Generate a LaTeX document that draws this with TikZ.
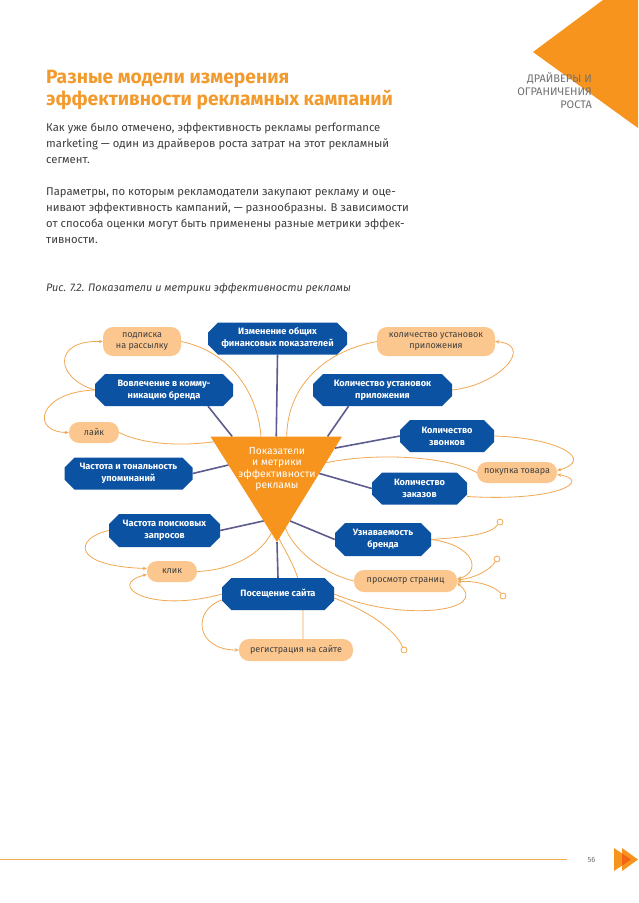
\documentclass[tikz,border=0pt]{standalone}
\usepackage{fontspec}
\setmainfont{Fira Sans}
\usetikzlibrary{positioning,calc,shapes.misc,arrows.meta,backgrounds}
\definecolor{mainOrange}{RGB}{247,148,30}
\definecolor{deepOrange}{RGB}{240,100,20}
\definecolor{titleOrange}{RGB}{243,154,45}
\definecolor{boxBlue}{RGB}{11,82,162}
\definecolor{paleOrange}{RGB}{252,199,143}
\definecolor{lineOrange}{RGB}{241,168,82}
\definecolor{linkBlue}{RGB}{92,92,142}
\definecolor{bodyGray}{RGB}{62,62,62}
\definecolor{headGray}{RGB}{112,112,112}
\tikzstyle{page} = [x = 1pt, y = -1pt]
\tikzstyle{metricBox} = [chamfered rectangle, chamfered rectangle xsep=5pt, chamfered rectangle ysep=5pt, fill=boxBlue, text=white, inner sep=0pt, align=center, font=\fontsize{9.2}{12}\selectfont\bfseries]
\tikzstyle{actionBox} = [rectangle, rounded corners=10pt, fill=paleOrange, text=bodyGray, inner sep=0pt, align=center, font=\fontsize{9}{10.5}\selectfont]
\tikzstyle{endCircle} = [circle, draw=lineOrange, fill=white, line width=.8pt, minimum size=6pt, inner sep=0pt]
\tikzstyle{metricLink} = [draw=linkBlue, line width=1.6pt]
\tikzstyle{actionLink} = [draw=lineOrange, line width=.8pt]
\tikzstyle{actionArrow} = [actionLink, -{Stealth[length=4pt, width=3.5pt]}]
\tikzstyle{triText} = [text=white, align=center, inner sep=0pt, font=\fontsize{10.3}{11.3}\selectfont]
\tikzstyle{bodyText} = [anchor=north west, align=left, inner sep=0pt, text=bodyGray, font=\fontsize{11.3}{16}\selectfont]
\newcommand{\openEnd}[2]{\node [endCircle] (#1) at (#2) {};}
\newcommand{\triPoint}[3]{($(#1)!#3!(#2)$)}

\begin{document}
\begin{tikzpicture}[page]
  \useasboundingbox (0,0) rectangle (638,903);

  % page header
  \fill [mainOrange] (533,52) -- (603,0) -- (638,0) -- (638,128) -- cycle;
  \node [anchor=north east, align=right, inner sep=0pt, text=headGray, font=\fontsize{11}{12.7}\selectfont] (chapter) at (592,73) {ДРАЙВЕРЫ И\\ОГРАНИЧЕНИЯ\\РОСТА};
  \node [anchor=north west, align=left, inner sep=0pt, text=titleOrange, font=\fontsize{19.2}{22}\selectfont\bfseries] (title) at (46,70) {Разные модели измерения\\эффективности рекламных кампаний};
  \node [bodyText] (para) at (46,123) {Как уже было отмечено, эффективность рекламы performance\\marketing~--- один из драйверов роста затрат на этот рекламный\\сегмент.\\[16pt]Параметры, по которым рекламодатели закупают рекламу и оце-\\нивают эффективность кампаний, --- разнообразны. В зависимости\\от способа оценки могут быть применены разные метрики эффек-\\тивности.};
  \node [bodyText, font=\fontsize{10.9}{16}\selectfont\itshape] (caption) at (46,283) {Рис. 7.2. Показатели и метрики эффективности рекламы};

  % centre triangle
  \coordinate (triLeft) at (210.5,436.5);
  \coordinate (triRight) at (342,436.5);
  \coordinate (triApex) at (277,542);
  \fill [mainOrange] (triLeft) -- (triRight) -- (triApex) -- cycle;
  \node [triText] (triLabel) at (277,469) {Показатели\\и метрики\\эффективности\\рекламы};

  % metrics
  \node [metricBox, minimum width=139pt, minimum height=32pt] (finance) at (277.5,338.5) {Изменение общих\\финансовых показателей};
  \node [metricBox, minimum width=138pt, minimum height=32pt] (engage) at (164,390) {Вовлечение в комму-\\никацию бренда};
  \node [metricBox, minimum width=139pt, minimum height=32pt] (installs) at (382.5,390) {Количество установок\\приложения};
  \node [metricBox, minimum width=94pt, minimum height=32pt] (calls) at (447,436) {Количество\\звонков};
  \node [metricBox, minimum width=128pt, minimum height=32pt] (mentions) at (128.5,473.5) {Частота и тональность\\упоминаний};
  \node [metricBox, minimum width=95pt, minimum height=32pt] (orders) at (419.5,488.5) {Количество\\заказов};
  \node [metricBox, minimum width=111pt, minimum height=33pt] (search) at (164.5,530.5) {Частота поисковых\\запросов};
  \node [metricBox, minimum width=96pt, minimum height=33pt] (brand) at (383,539.5) {Узнаваемость\\бренда};
  \node [metricBox, minimum width=112pt, minimum height=32pt] (visit) at (278,594) {Посещение сайта};

  % actions
  \node [actionBox, minimum width=78pt, minimum height=29pt] (subscribe) at (142,341.5) {подписка\\на рассылку};
  \node [actionBox, minimum width=118pt, minimum height=29pt] (appCount) at (436,341.5) {количество установок\\приложения};
  \node [actionBox, minimum width=50pt, minimum height=21pt] (like) at (94,432.5) {лайк};
  \node [actionBox, minimum width=80pt, minimum height=21pt] (purchase) at (517,472.5) {покупка товара};
  \node [actionBox, minimum width=50pt, minimum height=21pt] (click) at (172,571.5) {клик};
  \node [actionBox, minimum width=103pt, minimum height=22pt] (pageView) at (405.5,581) {просмотр страниц};
  \node [actionBox, minimum width=114pt, minimum height=22pt] (signup) at (296,650) {регистрация на сайте};
  \openEnd{endA}{500,522}
  \openEnd{endB}{497,559}
  \openEnd{endC}{503,596}
  \openEnd{endD}{404,650}

  \begin{scope}[on background layer]
    \fill [white] (0,0) rectangle (638,903);
    % metric links
    \draw [metricLink] (finance.south) -- \triPoint{triLeft}{triRight}{.5};
    \draw [metricLink] ($(engage.south)+(44,0)$) -- \triPoint{triLeft}{triRight}{.165};
    \draw [metricLink] ($(installs.south)+(-34,0)$) -- \triPoint{triLeft}{triRight}{.89};
    \draw [metricLink] (calls.west) -- \triPoint{triRight}{triApex}{.11};
    \draw [metricLink] (mentions.east) -- \triPoint{triLeft}{triApex}{.27};
    \draw [metricLink] (orders.west) -- \triPoint{triRight}{triApex}{.35};
    \draw [metricLink] (search.east) -- \triPoint{triLeft}{triApex}{.8};
    \draw [metricLink] (brand.west) -- \triPoint{triRight}{triApex}{.8};
    \draw [metricLink] (visit.north) -- (triApex);
    % action links
    \draw [actionLink] (subscribe.east) .. controls (232,352) and (258,395) .. \triPoint{triLeft}{triRight}{.384};
    \draw [actionLink] (appCount.west) .. controls (320,352) and (287,390) .. \triPoint{triLeft}{triRight}{.58};
    \draw [actionLink] (like.east) .. controls (140,443) and (175,447) .. \triPoint{triLeft}{triApex}{.05};
    \draw [actionLink] (purchase.west) .. controls (445,455) and (370,453) .. \triPoint{triRight}{triApex}{.25};
    \draw [actionLink] (click.east) .. controls (235,570) and (262,552) .. \triPoint{triLeft}{triApex}{.915};
    \draw [actionLink] \triPoint{triRight}{triApex}{.87} .. controls (295,552) and (325,574) .. (pageView.west);
    \draw [actionLink] \triPoint{triRight}{triApex}{.97} .. controls (288,556) and (303,578) .. ($(visit.south)+(25,0)$) -- ($(signup.north)+(7,0)$);
    \draw [actionArrow] (engage.west) .. controls (55,378) and (52,340) .. (subscribe.west);
    \draw [actionArrow] (engage.west) .. controls (38,392) and (30,432) .. (like.west);
    \draw [actionArrow] (installs.east) .. controls (500,385) and (535,345) .. (appCount.east);
    \draw [actionArrow] (calls.east) .. controls (560,438) and (595,460) .. ($(purchase.east)+(0,-2)$);
    \draw [actionArrow] ($(orders.east)+(0,8)$) .. controls (560,502) and (592,480) .. ($(purchase.east)+(0,2)$);
    \draw [actionArrow] (search.west) .. controls (75,538) and (70,566) .. ($(click.west)+(0,-3)$);
    \draw [actionArrow] (visit.west) .. controls (150,614) and (105,585) .. ($(click.west)+(0,3)$);
    \draw [actionArrow] ($(visit.west)+(0,6)$) .. controls (192,610) and (195,650) .. (signup.west);
    \draw [actionArrow] (brand.east) .. controls (475,545) and (482,572) .. ($(pageView.east)+(0,-2)$);
    \draw [actionArrow] (visit.east) .. controls (400,622) and (492,612) .. ($(pageView.east)+(0,2)$);
    \draw [actionLink] (brand.east) .. controls (465,537) and (490,535) .. (endA);
    \draw [actionArrow] (endB) .. controls (490,570) and (475,578) .. ($(pageView.east)+(0,-1)$);
    \draw [actionArrow] (endC) .. controls (495,586) and (475,580) .. ($(pageView.east)+(0,1)$);
    \draw [actionLink] ($(visit.east)+(0,4)$) .. controls (370,612) and (395,630) .. (endD);
  \end{scope}

  % page footer
  \draw [lineOrange, line width=.9pt] (0,859.5) -- (567,859.5);
  \node [inner sep=0pt, text=headGray, font=\fontsize{7.5}{9}\selectfont] (pageNo) at (591.5,860) {56};
  \fill [mainOrange] (614,848) -- (631,859.5) -- (614,871) -- cycle;
  \fill [mainOrange] (622,848) -- (638,859.5) -- (622,871) -- cycle;
  \fill [deepOrange] (622,853.4) -- (631,859.5) -- (622,865.6) -- cycle;
\end{tikzpicture}
\end{document}
